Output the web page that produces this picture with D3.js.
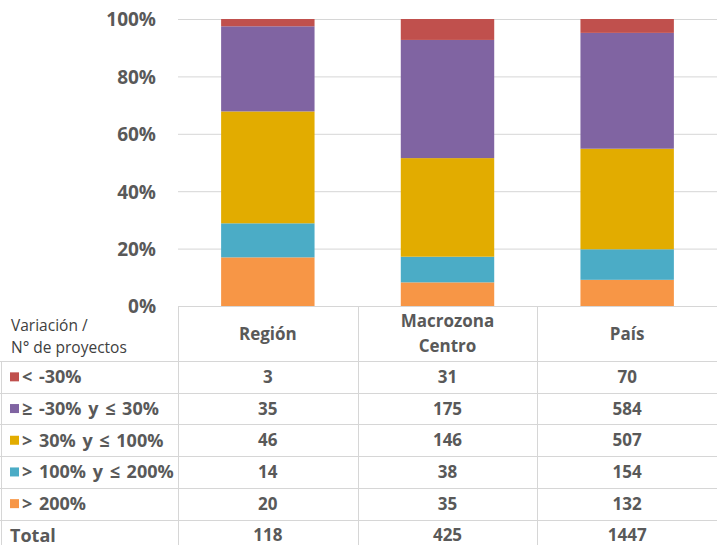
<!DOCTYPE html>
<html>
<head>
<meta charset="utf-8">
<script src="https://cdn.jsdelivr.net/npm/d3@7"></script>
<style>
  body { margin: 0; background: #fff; }
  text { font-family: "Open Sans", Lato, sans-serif; }
</style>
</head>
<body>
<svg id="chart" width="717" height="545"></svg>
<script>
/** data **/
var categories = ["Región", "Macrozona Centro", "País"];
var headerLines = [["Región"], ["Macrozona", "Centro"], ["País"]];
var seriesNames = ["< -30%", "≥ -30% y ≤ 30%", "> 30% y ≤ 100%", "> 100% y ≤ 200%", "> 200%"];
var seriesColors = ["#C0504D", "#8064A2", "#E2AC00", "#4BACC6", "#F79646"];
var seriesValues = [
    [3, 31, 70],
    [35, 175, 584],
    [46, 146, 507],
    [14, 38, 154],
    [20, 35, 132]
];
var totals = [118, 425, 1447];
var yTicks = [0, 0.2, 0.4, 0.6, 0.8, 1];

var svg = d3.select("#chart");
var gray = "#595959";
var lineColor = "#D6D6D6";
var tableFont = "17px";

/** scales **/
var plotLeft = 178, plotRight = 717;
var x = d3.scaleBand()
    .domain(categories)
    .range([plotLeft, plotRight])
    .paddingInner(0.48)
    .paddingOuter(0.24);
var col = d3.scaleBand()
    .domain(categories)
    .range([plotLeft, plotRight]);
var y = d3.scaleLinear()
    .domain([0, 1])
    .range([306, 19]);

/** gridlines **/
svg.append("g").selectAll("line")
    .data(yTicks.filter(function (d){return d > 0;}))
    .enter().append("line")
    .attr("x1", plotLeft).attr("x2", plotRight)
    .attr("y1", function (d){return y(d) + 0.5;})
    .attr("y2", function (d){return y(d) + 0.5;})
    .attr("stroke", lineColor);

/** y axis labels **/
var yAxis = svg.append("g")
    .attr("transform", "translate(156,0)")
    .call(d3.axisLeft(y).tickValues(yTicks).tickFormat(d3.format(".0%")).tickSize(0).tickPadding(0));
yAxis.select(".domain").remove();
yAxis.selectAll("text")
    .style("font-size", "19px")
    .style("font-weight", "700")
    .attr("fill", gray)
    .attr("dy", "0.36em");

/** stacked bars (100%) - drawn bottom up, last series first **/
var stackOrder = d3.range(seriesNames.length).reverse();
categories.forEach(function (cat, ci){
    var acc = 0;
    stackOrder.forEach(function (si){
        var share = seriesValues[si][ci] / totals[ci];
        svg.append("rect")
            .attr("x", x(cat))
            .attr("width", x.bandwidth())
            .attr("y", y(acc + share))
            .attr("height", y(acc) - y(acc + share))
            .attr("fill", seriesColors[si]);
        acc += share;
    });
});

/** data table **/
var tableTop = y(0);
var headerBottom = 361;
var rowH = 31.7;
var nRows = seriesNames.length + 1;
var row = function (i){return headerBottom + i * rowH;};

var table = svg.append("g");
// top border of header (no border over the legend column)
table.append("line")
    .attr("x1", plotLeft).attr("x2", plotRight)
    .attr("y1", tableTop + 0.5).attr("y2", tableTop + 0.5)
    .attr("stroke", lineColor);
// row borders
table.selectAll(".hrow")
    .data(d3.range(nRows + 1))
    .enter().append("line")
    .attr("class", "hrow")
    .attr("x1", 0).attr("x2", plotRight)
    .attr("y1", function (i){return Math.round(row(i)) + 0.5;})
    .attr("y2", function (i){return Math.round(row(i)) + 0.5;})
    .attr("stroke", lineColor);
// column borders
var colEdges = categories.map(function (c){return col(c);}).concat([plotRight - 0.5]);
table.selectAll(".vcol")
    .data(colEdges)
    .enter().append("line")
    .attr("class", "vcol")
    .attr("x1", function (d){return Math.round(d) + 0.5;})
    .attr("x2", function (d){return Math.round(d) + 0.5;})
    .attr("y1", tableTop).attr("y2", row(nRows))
    .attr("stroke", lineColor);
table.append("line")
    .attr("x1", 1.5).attr("x2", 1.5)
    .attr("y1", headerBottom).attr("y2", row(nRows))
    .attr("stroke", lineColor);

// header labels
categories.forEach(function (cat, ci){
    var lines = headerLines[ci];
    var cx = col(cat) + col.bandwidth() / 2;
    var cy = (tableTop + headerBottom) / 2;
    lines.forEach(function (ln, li){
        table.append("text")
            .attr("x", cx)
            .attr("y", cy + (li - (lines.length - 1) / 2) * 25)
            .attr("dy", "0.36em")
            .attr("text-anchor", "middle")
            .style("font-size", tableFont)
            .style("font-weight", "700")
            .attr("fill", gray)
            .text(ln);
    });
});

// corner label
table.append("text").attr("x", 11).attr("y", 331)
    .style("font-size", "15.5px").attr("fill", "#404040").text("Variación /");
table.append("text").attr("x", 11).attr("y", 353)
    .style("font-size", "15.5px").attr("fill", "#404040").text("N° de proyectos");

// series rows
seriesNames.forEach(function (name, si){
    var cy = row(si) + rowH / 2;
    table.append("rect")
        .attr("x", 10).attr("y", cy - 4.5)
        .attr("width", 9).attr("height", 9)
        .attr("fill", seriesColors[si]);
    table.append("text")
        .attr("x", 22).attr("y", cy).attr("dy", "0.36em")
        .style("font-size", "18px").style("font-weight", "700")
        .style("word-spacing", "2px")
        .attr("fill", gray)
        .text(name);
    categories.forEach(function (cat, ci){
        table.append("text")
            .attr("x", col(cat) + col.bandwidth() / 2)
            .attr("y", cy).attr("dy", "0.36em")
            .attr("text-anchor", "middle")
            .style("font-size", tableFont).style("font-weight", "700")
            .attr("fill", gray)
            .text(seriesValues[si][ci]);
    });
});

// total row
var ty = row(seriesNames.length) + rowH / 2;
table.append("text")
    .attr("x", 10).attr("y", ty).attr("dy", "0.36em")
    .style("font-size", "18px").style("font-weight", "700")
    .attr("fill", gray).text("Total");
categories.forEach(function (cat, ci){
    table.append("text")
        .attr("x", col(cat) + col.bandwidth() / 2)
        .attr("y", ty).attr("dy", "0.36em")
        .attr("text-anchor", "middle")
        .style("font-size", tableFont).style("font-weight", "700")
        .attr("fill", gray)
        .text(totals[ci]);
});
</script>
</body>
</html>
